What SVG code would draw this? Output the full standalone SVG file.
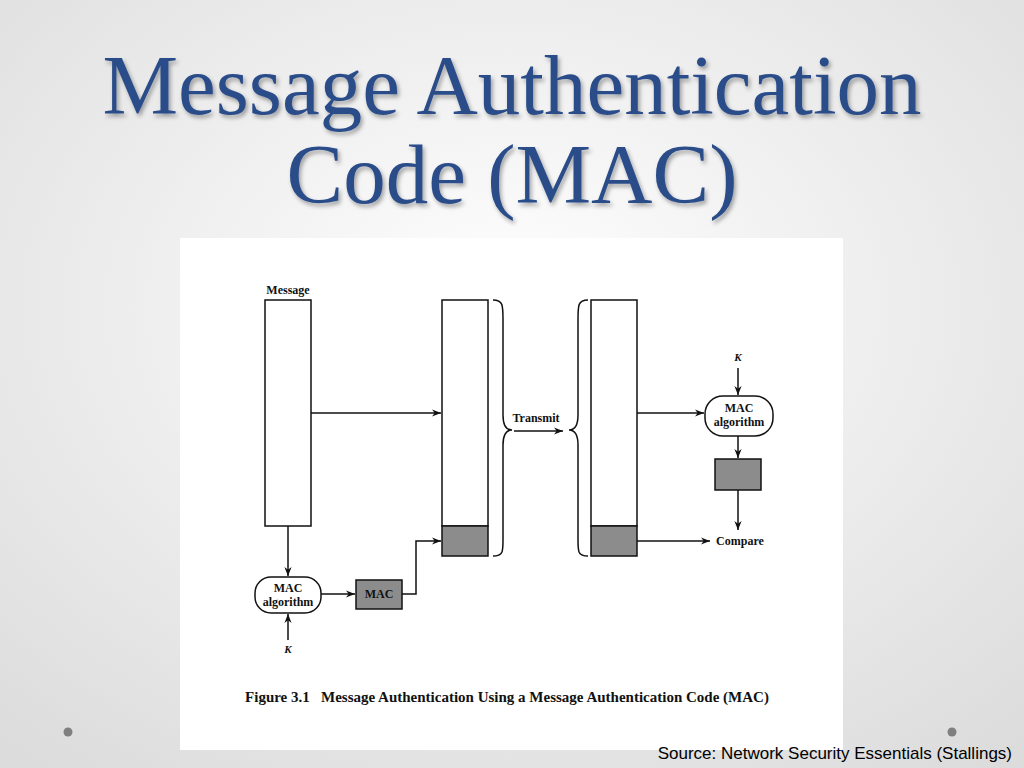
<svg xmlns="http://www.w3.org/2000/svg" width="1024" height="768" viewBox="0 0 1024 768">
<defs>
<radialGradient id="bg" cx="0.5" cy="0.4" r="0.75"><stop offset="0" stop-color="#ffffff"/><stop offset="1" stop-color="#dcdcdc"/></radialGradient>
<marker id="ah" viewBox="0 0 10 10" refX="10" refY="5" markerWidth="9" markerHeight="9" markerUnits="userSpaceOnUse" orient="auto"><path d="M0,1 L10,5 L0,9 L3,5 Z" fill="#111"/></marker>
<filter id="sh" x="-5%" y="-5%" width="110%" height="120%"><feDropShadow dx="2" dy="3" stdDeviation="2" flood-color="#000" flood-opacity="0.35"/></filter>
</defs>
<style>
.ln{stroke:#111;stroke-width:1.5;fill:none}
.ar{stroke:#111;stroke-width:1.5;fill:none;marker-end:url(#ah)}
.box{fill:#fff;stroke:#111;stroke-width:1.5}
.g{fill:#8c8c8c;stroke:#111;stroke-width:1.5}
.t{font-family:"Liberation Serif",serif;font-weight:bold;font-size:12px;fill:#111;text-anchor:middle}
.k{font-family:"Liberation Serif",serif;font-weight:bold;font-style:italic;font-size:11px;fill:#111;text-anchor:middle}
.title{font-family:"Liberation Serif",serif;font-size:85px;fill:#2c4d8a;text-anchor:middle;filter:url(#sh)}
</style>
<rect width="1024" height="768" fill="url(#bg)"/>
<text class="title" x="512" y="114">Message Authentication</text>
<text class="title" x="512" y="203">Code (MAC)</text>
<rect x="180" y="238" width="663" height="512" fill="#fff"/>
<circle cx="68" cy="732" r="4.5" fill="#7f7f7f"/>
<circle cx="952" cy="732" r="4.5" fill="#7f7f7f"/>
<g id="connectors">
<path class="ar" d="M311,413 H441"/>
<path class="ar" d="M288,526 V576"/>
<path class="ar" d="M288,640 V614"/>
<path class="ar" d="M321,594 H355"/>
<path class="ar" d="M402,594 H416 V541 H441"/>
<path class="ar" d="M514,431 H563"/>
<path class="ar" d="M637,413 H704"/>
<path class="ar" d="M738,368 V395"/>
<path class="ar" d="M738,436 V458"/>
<path class="ar" d="M738,490 V530"/>
<path class="ar" d="M637,541 H710"/>
<path class="ln" d="M493,300 C503,300 503,305 503,320 V415 C503,425 506,430 512,430 C506,430 503,435 503,445 V540 C503,552 503,556 493,556"/>
<path class="ln" d="M588,300 C578,300 578,305 578,320 V415 C578,425 575,430 569,430 C575,430 578,435 578,445 V540 C578,552 578,556 588,556"/>
</g>
<g id="message"><text class="t" x="288" y="294">Message</text><rect class="box" x="265" y="300" width="46" height="226"/></g>
<g id="sent"><rect class="box" x="442" y="300" width="46" height="226"/><rect class="g" x="442" y="526" width="46" height="30"/></g>
<g id="received"><rect class="box" x="591" y="300" width="46" height="226"/><rect class="g" x="591" y="526" width="46" height="30"/></g>
<g id="transmit"><text class="t" x="536" y="422">Transmit</text></g>
<g id="mac1"><rect class="box" x="255" y="577" width="66" height="36" rx="16"/><text class="t" x="288" y="592">MAC</text><text class="t" x="288" y="606">algorithm</text></g>
<g id="k1"><text class="k" x="288" y="653">K</text></g>
<g id="macbox"><rect class="g" x="356" y="580" width="46" height="29"/><text class="t" x="379" y="598">MAC</text></g>
<g id="mac2"><rect class="box" x="705" y="396" width="68" height="40" rx="18"/><text class="t" x="739" y="412">MAC</text><text class="t" x="739" y="426">algorithm</text></g>
<g id="k2"><text class="k" x="738" y="361">K</text></g>
<g id="macbox2"><rect class="g" x="715" y="459" width="46" height="31"/></g>
<g id="compare"><text class="t" x="740" y="545">Compare</text></g>
<text x="507" y="702" font-family="Liberation Serif,serif" font-weight="bold" font-size="15" fill="#111" text-anchor="middle" xml:space="preserve">Figure 3.1   Message Authentication Using a Message Authentication Code (MAC)</text>
<text x="1012" y="759" font-family="Liberation Sans,sans-serif" font-size="17" fill="#000" text-anchor="end">Source: Network Security Essentials (Stallings)</text>
</svg>
